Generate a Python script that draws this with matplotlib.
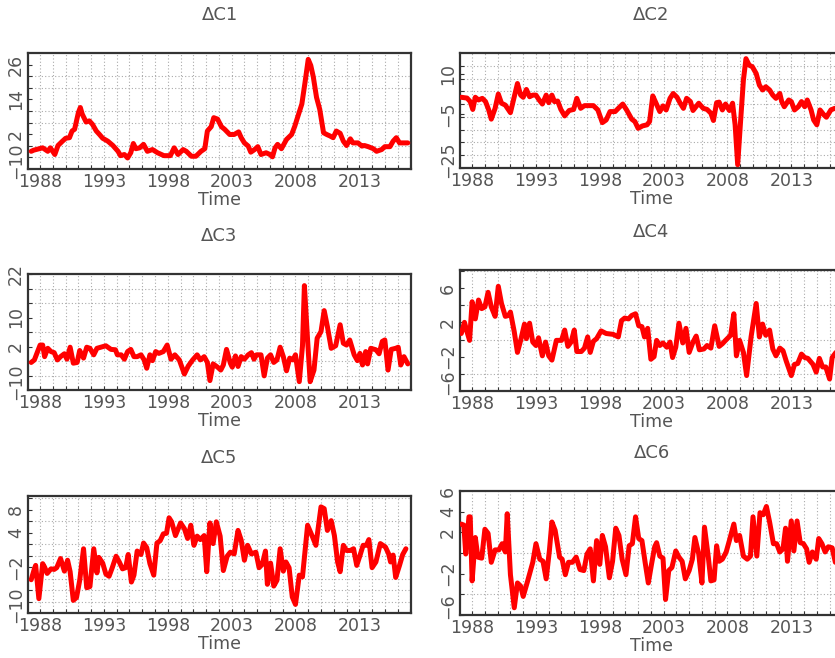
import numpy as np
import matplotlib
matplotlib.use("Agg")
import matplotlib.pyplot as plt
from matplotlib.ticker import FixedLocator, MultipleLocator
from matplotlib.transforms import ScaledTranslation

# ---------------- data ----------------
t_c1 = [1987.3, 1987.5, 1988.2, 1988.6, 1988.8, 1989.15, 1989.4, 1989.75, 1990.0, 1990.3, 1990.5, 1990.7,
        1991.0, 1991.15, 1991.3, 1991.6, 1991.85, 1992.1, 1992.4, 1992.65, 1992.9, 1993.3, 1993.7, 1994.1,
        1994.3, 1994.6, 1994.85, 1995.1, 1995.3, 1995.5, 1995.8, 1996.1, 1996.4, 1996.8, 1997.2, 1997.7,
        1998.2, 1998.5, 1998.8, 1999.2, 1999.45, 1999.85, 2000.2, 2000.6, 2000.9, 2001.1, 2001.4, 2001.6,
        2001.9, 2002.2, 2002.45, 2002.85, 2003.2, 2003.55, 2003.75, 2004.0, 2004.3, 2004.5, 2004.8, 2005.05,
        2005.3, 2005.7, 2006.0, 2006.2, 2006.4, 2006.6, 2006.9, 2007.3, 2007.7, 2007.95, 2008.2, 2008.5,
        2008.75, 2009.0, 2009.2, 2009.4, 2009.65, 2009.9, 2010.2, 2010.45, 2010.7, 2010.95, 2011.2, 2011.5,
        2011.75, 2012.0, 2012.3, 2012.5, 2012.9, 2013.2, 2013.4, 2013.7, 2014.1, 2014.35, 2014.75, 2015.0,
        2015.4, 2015.65, 2015.9, 2016.15, 2016.55, 2016.8]
c1 = [-3.9, -3.5, -2.7, -3.9, -2.7, -5.0, -1.9, -0.4, 0.6, 0.8, 3.1, 3.7,
      9.5, 11.2, 8.9, 6.2, 6.6, 5.4, 3.1, 1.9, 0.6, -0.4, -1.9, -3.9,
      -5.4, -5.0, -6.2, -4.4, -1.2, -3.0, -2.7, -1.5, -3.9, -3.3, -4.4, -5.4,
      -5.4, -2.7, -5.0, -3.3, -3.9, -5.6, -5.6, -3.9, -3.0, 3.1, 4.6, 7.7,
      7.2, 4.6, 3.7, 1.9, 1.9, 2.8, 0.8, -1.0, -2.1, -4.2, -3.3, -2.3,
      -5.0, -4.4, -5.0, -5.8, -2.7, -1.5, -3.0, 0.2, 1.9, 4.8, 8.3, 12.4,
      19.9, 27.8, 25.7, 21.7, 14.7, 10.6, 2.5, 1.9, 1.4, 0.8, 3.1, 2.3,
      -0.4, -1.9, 0.4, -1.0, -1.0, -2.1, -1.9, -2.3, -3.0, -3.9, -3.3, -2.3,
      -2.3, -0.4, 0.8, -1.0, -1.0, -1.0]

t_c2 = [1987.15, 1987.6, 1987.85, 1988.05, 1988.25, 1988.5, 1988.8, 1989.05, 1989.3, 1989.5, 1989.8, 1990.05,
        1990.3, 1990.6, 1991.0, 1991.3, 1991.55, 1991.8, 1992.0, 1992.25, 1992.5, 1992.75, 1993.0, 1993.25,
        1993.5, 1993.8, 1994.0, 1994.25, 1994.45, 1994.7, 1994.95, 1995.25, 1995.6, 1995.95, 1996.2, 1996.5,
        1996.8, 1997.5, 1997.85, 1998.2, 1998.5, 1998.8, 1999.2, 1999.45, 1999.8, 2000.1, 2000.5, 2000.75,
        2001.0, 2001.35, 2001.7, 2001.9, 2002.15, 2002.35, 2002.7, 2002.95, 2003.2, 2003.5, 2003.75, 2004.05,
        2004.3, 2004.55, 2004.8, 2005.1, 2005.3, 2005.75, 2006.1, 2006.4, 2006.7, 2006.9, 2007.15, 2007.35,
        2007.6, 2007.85, 2008.15, 2008.4, 2008.6, 2008.8, 2009.0, 2009.25, 2009.45, 2009.7, 2009.95, 2010.25,
        2010.5, 2010.75, 2011.0, 2011.3, 2011.55, 2011.8, 2012.1, 2012.25, 2012.45, 2012.8, 2013.0, 2013.25,
        2013.55, 2013.8, 2014.05, 2014.25, 2014.55, 2014.75, 2015.0, 2015.25, 2015.55, 2015.75, 2016.1, 2016.4,
        2016.8]
c2 = [1.2, 0.9, -0.4, -3.3, 1.2, 0.2, 0.8, -0.4, -3.5, -6.9, -2.9, 2.4,
      -1.0, -1.7, -4.5, 1.4, 6.3, 2.0, 1.2, 4.1, 1.4, 2.0, 2.0, 0.2,
      -1.3, 2.0, -0.8, 2.0, -0.4, -0.2, -3.3, -5.7, -3.7, -3.3, 0.8, -2.9,
      -1.9, -1.9, -3.5, -8.2, -7.2, -4.1, -4.1, -2.9, -1.3, -3.5, -6.9, -7.8,
      -10.3, -9.4, -9.0, -7.8, 1.7, -0.4, -4.1, -2.0, -3.5, 0.8, 2.6, 1.2,
      -1.0, -2.9, 0.8, -0.4, -3.7, -1.0, -2.9, -3.3, -4.7, -7.4, -0.8, -0.6,
      -3.5, -1.3, -3.7, -1.0, -9.0, -23.8, -9.6, 7.6, 15.5, 13.1, 12.5, 10.0,
      5.7, 3.9, 5.1, 3.9, 2.0, 0.8, 2.6, -0.4, -2.3, 0.2, -0.4, -3.5,
      -2.3, -0.4, -2.3, 0.2, -3.5, -7.2, -9.0, -3.5, -5.3, -6.2, -3.5, -2.9,
      -3.2]

t_c3 = [1987.3, 1987.55, 1987.8, 1988.0, 1988.2, 1988.35, 1988.6, 1988.85, 1989.1, 1989.35, 1989.6, 1989.9,
        1990.1, 1990.35, 1990.6, 1990.9, 1991.1, 1991.4, 1991.65, 1991.9, 1992.2, 1992.45, 1992.75, 1993.15,
        1993.55, 1993.9, 1994.05, 1994.35, 1994.6, 1994.85, 1995.1, 1995.35, 1995.6, 1995.9, 1996.15, 1996.35,
        1996.6, 1996.8, 1997.05, 1997.3, 1997.65, 1997.95, 1998.25, 1998.55, 1998.9, 1999.3, 1999.6, 1999.95,
        2000.3, 2000.55, 2000.85, 2001.1, 2001.3, 2001.55, 2001.9, 2002.15, 2002.35, 2002.6, 2002.9, 2003.05,
        2003.3, 2003.5, 2003.75, 2004.0, 2004.3, 2004.55, 2004.75, 2004.95, 2005.3, 2005.55, 2005.8, 2006.05,
        2006.3, 2006.55, 2006.8, 2007.05, 2007.3, 2007.55, 2007.8, 2008.0, 2008.3, 2008.55, 2008.7, 2008.95,
        2009.15, 2009.45, 2009.7, 2010.0, 2010.25, 2010.5, 2010.8, 2011.15, 2011.5, 2011.75, 2012.0, 2012.25,
        2012.6, 2012.85, 2013.05, 2013.25, 2013.5, 2013.65, 2013.9, 2014.3, 2014.55, 2014.8, 2015.0, 2015.25,
        2015.5, 2015.85, 2016.05, 2016.25, 2016.5, 2016.8]
c3 = [-2.4, -1.7, 0.6, 2.4, 2.4, -0.8, 1.5, 0.6, 0.3, -1.7, -0.8, 0.0,
      -1.5, 1.8, -2.6, -2.4, 0.9, -1.2, 1.8, 1.5, -0.3, 1.5, 1.8, 2.2,
      1.2, 1.1, -0.3, -0.3, -1.5, 0.6, 1.2, -0.8, -0.8, -0.3, -1.7, -4.0,
      -0.3, -1.9, 0.6, 0.1, 0.6, 2.4, -1.5, -0.3, -1.7, -5.6, -3.4, -1.7,
      -0.3, -1.7, -0.8, -2.4, -7.4, -2.8, -3.7, -4.5, -3.1, 1.2, -2.6, -3.7,
      -0.6, -3.5, -0.8, -1.5, -0.3, 0.3, -1.5, -0.3, -0.3, -6.1, -1.2, -0.3,
      -2.4, -1.7, 1.8, -0.8, -4.7, -1.2, -1.7, -0.3, -7.7, 2.2, 18.8, 3.8,
      -7.7, -4.5, 4.3, 6.1, 11.9, 7.5, 1.5, 2.2, 8.0, 2.9, 2.4, 3.8,
      -0.3, -1.9, 0.1, -3.1, 0.6, -2.8, 1.5, 1.1, 0.0, 3.4, 3.8, -4.5,
      1.2, 1.5, 1.8, -3.1, -0.8, -2.8]

t_c4 = [1987.15, 1987.4, 1987.6, 1987.8, 1988.0, 1988.25, 1988.5, 1988.75, 1989.0, 1989.25, 1989.5, 1989.8,
        1990.05, 1990.3, 1990.6, 1990.85, 1991.0, 1991.3, 1991.55, 1991.8, 1992.1, 1992.25, 1992.5, 1992.75,
        1993.0, 1993.2, 1993.5, 1993.75, 1994.0, 1994.25, 1994.6, 1995.0, 1995.25, 1995.5, 1995.75, 1996.0,
        1996.2, 1996.55, 1996.8, 1997.05, 1997.25, 1997.5, 1997.75, 1998.1, 1998.5, 1999.05, 1999.45, 1999.7,
        1999.95, 2000.25, 2000.5, 2000.8, 2001.05, 2001.3, 2001.5, 2001.75, 2002.0, 2002.25, 2002.45, 2002.7,
        2002.95, 2003.25, 2003.5, 2003.7, 2003.95, 2004.2, 2004.5, 2004.75, 2005.0, 2005.3, 2005.55, 2005.8,
        2006.15, 2006.4, 2006.7, 2007.0, 2007.35, 2007.6, 2007.85, 2008.25, 2008.5, 2008.7, 2008.95, 2009.25,
        2009.5, 2009.85, 2010.25, 2010.5, 2010.75, 2011.0, 2011.3, 2011.55, 2011.8, 2012.1, 2012.35, 2012.6,
        2013.0, 2013.25, 2013.5, 2013.8, 2014.05, 2014.3, 2014.7, 2014.95, 2015.2, 2015.45, 2015.7, 2016.0,
        2016.2, 2016.5]
c4 = [0.7, 2.0, 0.9, -0.1, 4.4, 2.4, 4.6, 3.6, 3.8, 5.5, 3.8, 2.7,
      6.2, 4.2, 2.7, 2.8, 3.2, 0.9, -1.5, -0.1, 1.8, 0.1, 1.9, -0.3,
      -0.7, 0.2, -1.9, -0.3, -1.9, -2.4, -0.1, -0.1, 1.1, -0.8, -0.3, 1.1,
      -1.4, -1.4, -1.0, 0.3, -1.5, -0.2, 0.1, 1.0, 0.7, 0.6, 0.3, 2.2,
      2.5, 2.4, 2.8, 3.0, 1.6, 1.5, 0.3, 1.3, -2.3, -2.0, -0.1, -0.7,
      -0.4, -0.9, -0.3, -2.1, -0.9, 1.9, -0.4, 1.3, -1.5, -0.3, 0.4, -1.2,
      -1.1, -0.7, -1.0, 1.6, -0.8, -0.5, -0.1, 0.5, 3.0, -1.9, -0.1, -1.5,
      -4.2, 0.3, 4.2, 0.3, 1.8, 0.5, 1.1, -1.1, -1.9, -1.0, -1.3, -2.5,
      -4.2, -2.9, -2.8, -1.7, -2.1, -2.2, -2.9, -3.8, -2.2, -3.2, -3.2, -4.6,
      -2.1, -1.5]

t_c5 = [1987.3, 1987.55, 1987.65, 1987.9, 1988.2, 1988.35, 1988.55, 1988.85, 1989.1, 1989.3, 1989.6, 1989.9,
        1990.15, 1990.35, 1990.6, 1990.85, 1991.1, 1991.4, 1991.65, 1991.9, 1992.2, 1992.45, 1992.6, 1992.9,
        1993.15, 1993.4, 1993.65, 1993.95, 1994.2, 1994.45, 1994.7, 1994.9, 1995.15, 1995.35, 1995.6, 1995.9,
        1996.1, 1996.35, 1996.6, 1996.9, 1997.15, 1997.4, 1997.65, 1997.9, 1998.1, 1998.3, 1998.6, 1999.0,
        1999.3, 1999.55, 1999.8, 2000.05, 2000.3, 2000.55, 2000.85, 2001.05, 2001.3, 2001.55, 2001.8, 2002.1,
        2002.35, 2002.65, 2002.9, 2003.2, 2003.5, 2003.75, 2004.0, 2004.25, 2004.55, 2004.9, 2005.15, 2005.4,
        2005.65, 2005.8, 2006.05, 2006.3, 2006.55, 2006.8, 2007.05, 2007.25, 2007.5, 2007.75, 2008.0, 2008.3,
        2008.55, 2008.95, 2009.35, 2009.6, 2010.0, 2010.25, 2010.5, 2010.8, 2011.05, 2011.3, 2011.5, 2011.75,
        2012.0, 2012.3, 2012.55, 2012.8, 2013.05, 2013.3, 2013.55, 2013.75, 2014.0, 2014.3, 2014.65, 2015.05,
        2015.3, 2015.45, 2015.65, 2015.85, 2016.15, 2016.4, 2016.65]
c5 = [-4.2, -2.3, -1.7, -7.5, -1.4, -2.0, -3.1, -2.3, -2.4, -2.1, -0.5, -2.7,
      -0.8, -2.8, -7.8, -7.3, -4.3, 1.2, -5.6, -5.4, 1.2, -3.0, -0.3, -1.3,
      -3.2, -3.6, -2.1, -0.1, -1.1, -2.3, -2.1, 0.2, -4.6, -3.4, 0.8, 0.2,
      2.2, 1.4, -1.4, -3.4, 2.2, 2.6, 3.8, 3.9, 6.6, 5.9, 3.5, 5.7,
      4.7, 3.0, 5.3, 1.8, 3.4, 2.8, 3.5, -2.8, 5.7, 2.1, 5.9, 3.4,
      -2.6, -0.1, 0.6, 0.3, 4.4, 2.7, -0.8, 1.8, 0.3, 0.6, -2.1, -1.5,
      0.8, -5.0, -1.3, -5.3, -4.3, 1.2, -2.7, -1.1, -2.1, -7.2, -8.5, -3.4,
      -3.7, 5.3, 3.2, 1.8, 8.5, 8.2, 4.4, 6.1, 3.5, -1.1, -2.8, 1.8,
      0.9, 0.9, 1.2, -1.7, 0.0, 1.8, 1.8, 2.8, -2.1, -1.1, 2.1, 1.5,
      0.3, -1.1, 0.1, -3.8, -1.7, 0.2, 1.2]

t_c6 = [1987.15, 1987.35, 1987.5, 1987.75, 1987.85, 1988.0, 1988.25, 1988.45, 1988.75, 1989.0, 1989.25, 1989.5,
        1989.8, 1990.1, 1990.35, 1990.6, 1990.75, 1991.0, 1991.3, 1991.55, 1991.8, 1992.0, 1992.35, 1992.75,
        1993.0, 1993.3, 1993.55, 1993.8, 1994.05, 1994.25, 1994.5, 1994.85, 1995.05, 1995.3, 1995.55, 1995.85,
        1996.15, 1996.45, 1996.75, 1997.0, 1997.25, 1997.5, 1997.75, 1998.0, 1998.2, 1998.45, 1998.75, 1999.0,
        1999.25, 1999.5, 1999.75, 2000.05, 2000.3, 2000.55, 2000.8, 2001.05, 2001.3, 2001.55, 2001.8, 2002.05,
        2002.3, 2002.45, 2002.7, 2002.95, 2003.15, 2003.4, 2003.65, 2003.95, 2004.2, 2004.45, 2004.7, 2005.0,
        2005.25, 2005.45, 2005.75, 2006.0, 2006.2, 2006.5, 2006.7, 2006.95, 2007.15, 2007.35, 2007.6, 2007.9,
        2008.15, 2008.5, 2008.7, 2008.95, 2009.25, 2009.55, 2009.8, 2010.0, 2010.3, 2010.55, 2010.8, 2011.05,
        2011.3, 2011.6, 2011.85, 2012.1, 2012.35, 2012.55, 2012.7, 2013.0, 2013.2, 2013.45, 2013.7, 2013.95,
        2014.2, 2014.4, 2014.65, 2014.95, 2015.15, 2015.4, 2015.65, 2015.9, 2016.2, 2016.45]
c6 = [2.8, 2.7, -0.1, 3.5, 3.5, -2.7, 1.5, -0.4, -0.5, 2.3, 1.9, -0.9,
      0.3, 0.3, 0.9, 0.1, 3.8, -2.1, -5.3, -2.9, -3.2, -4.2, -2.7, -0.9,
      0.9, -0.6, -0.8, -2.5, 0.2, 3.0, 2.2, -0.4, -0.6, -2.1, -0.9, -0.9,
      -0.4, -1.6, -1.7, -0.1, 0.4, -2.7, 1.2, -1.1, 1.7, 0.6, -2.4, -0.8,
      2.4, 1.7, -0.6, -2.1, 0.7, 0.9, 3.5, 1.4, 1.2, -0.9, -2.9, -1.1,
      0.6, 1.0, -0.3, -0.5, -4.5, -1.7, -1.4, 0.2, -0.4, -0.8, -2.5, -1.7,
      -0.6, 1.5, -0.1, -2.9, 2.5, -0.4, -2.7, -2.6, 0.7, -0.8, -0.6, 0.1,
      1.2, 2.8, 1.2, 1.7, -0.3, -0.6, -0.3, 3.5, -0.3, 3.9, 3.7, 4.5,
      3.0, 0.9, 0.9, 0.1, 0.4, 2.4, -0.8, 3.1, 0.2, 3.1, 1.0, 0.9,
      0.4, -0.9, 0.1, -0.6, 1.4, 0.9, 0.1, 0.6, 0.5, -0.9]

titles = ["\u0394C1", "\u0394C2", "\u0394C3", "\u0394C4", "\u0394C5", "\u0394C6"]
year_ticks = [1988, 1993, 1998, 2003, 2008, 2013]
year_labels = ["1988", "1993", "1998", "2003", "2008", "2013"]

ytick_vals = [[-10, 2, 14, 26], [-25, -5, 10], [-10, 2, 10, 22],
              [-6, -2, 2, 6], [-10, -2, 4, 8], [-6, -2, 2, 4, 6]]
ytick_labels = [["\u221210", "2", "14", "26"], ["\u221225", "\u22125", "10"],
                ["\u221210", "2", "10", "22"], ["\u22126", "\u22122", "2", "6"],
                ["\u221210", "\u22122", "4", "8"], ["\u22126", "\u22122", "2", "4", "6"]]

series_t = [t_c1, t_c2, t_c3, t_c4, t_c5, t_c6]
series_v = [c1, c2, c3, c4, c5, c6]

# ---------------- layout / style ----------------
W, H = 835, 658
fig = plt.figure(figsize=(W / 100, H / 100), dpi=100)
plt.rcParams['font.family'] = ['DejaVu Sans']

# pixel boxes: (left, top, right, bottom)
boxes = [(28, 53, 411, 169), (460, 53, 843, 168),
         (28, 274, 411, 390), (460, 270, 843, 391),
         (28, 496, 411, 613), (460, 491, 843, 615)]
ylims = [(-10, 30), (-25, 17.6), (-10, 22), (-6, 8.1), (-10, 10.4), (-6, 6)]
ygrid_n = [10, 9, 8, None, None, None]

txt = "#555555"
for i in range(6):
    l, t, r, b = boxes[i]
    ax = fig.add_axes([l / W, 1 - b / H, (r - l) / W, (b - t) / H])
    ax.plot(series_t[i], series_v[i], color="#ff0000", lw=3.6, solid_joinstyle="round",
            solid_capstyle="round", zorder=3)
    ax.set_xlim(1987.05, 2017.05)
    ax.set_ylim(*ylims[i])
    ax.set_xticks(year_ticks)
    ax.set_xticklabels(year_labels)
    ax.xaxis.set_minor_locator(MultipleLocator(1))
    ax.set_yticks(ytick_vals[i])
    ax.set_yticklabels(ytick_labels[i], rotation=90, va="center")
    lo, hi = ylims[i]
    if ygrid_n[i] is None:
        ax.yaxis.set_minor_locator(MultipleLocator(2))
    else:
        ax.yaxis.set_minor_locator(FixedLocator(np.linspace(lo, hi, ygrid_n[i] + 1)[1:-1]))
    ax.grid(True, which="both", axis="x", color="#aaaaaa", ls=(0, (1, 2)), lw=0.8)
    ax.grid(True, which="minor", axis="y", color="#aaaaaa", ls=(0, (1, 2)), lw=0.8)
    ax.tick_params(axis="both", which="both", direction="in", colors="#333333",
                   labelcolor=txt, labelsize=12.5, length=3, width=0.8)
    ax.tick_params(axis="x", pad=3)
    ax.tick_params(axis="y", pad=2)
    for s in ax.spines.values():
        s.set_color("#333333")
        s.set_linewidth(1.6)
    ax.set_xlabel("Time", color=txt, fontsize=12.5, labelpad=0)
    # lift negative (bottom) y labels a little, as in the reference
    for lab, v in zip(ax.get_yticklabels(), ytick_vals[i]):
        if v == lo:
            lab.set_transform(lab.get_transform() +
                              ScaledTranslation(0, 6 / 72, fig.dpi_scale_trans))
    fig.text((l + (r - l) / 2) / W, 1 - (t - 38) / H, titles[i], ha="center", va="center",
             color=txt, fontsize=13)

fig.savefig("out.png", dpi=100)
